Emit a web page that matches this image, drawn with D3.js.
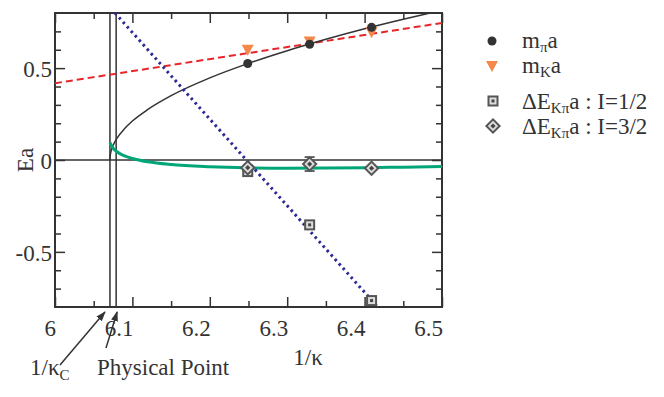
<!DOCTYPE html>
<html><head><meta charset="utf-8">
<script src="https://cdn.jsdelivr.net/npm/d3@7"></script>
<style>body{margin:0;background:#fff}</style>
</head><body><svg id="c" width="664" height="397" font-family="'Liberation Serif', 'Times New Roman', 'DejaVu Serif', serif"></svg>
<script>
const xTicks=[6.0,6.1,6.2,6.3,6.4,6.5];
const xTickLabels=["6","6.1","6.2","6.3","6.4","6.5"];
const yTicks=[-0.5,0,0.5];
const yTickLabels=["-0.5","0","0.5"];
const invKappa=[6.249,6.329,6.409];
const mPi=[0.525,0.630,0.722];
const mK=[0.600,0.645,0.695];
const dE12=[-0.063,-0.353,-0.765];
const dE32=[-0.042,-0.022,-0.045];
const dE32err=[0.006,0.038,0.008];
const invKappaC=6.071, invKappaPhys=6.079;
const piFitX=[6.071,6.0715,6.073,6.076,6.08,6.09,6.1,6.12,6.15,6.2,6.25,6.3,6.35,6.4,6.45,6.49];
const piFitY=[0.0,0.028,0.056,0.088,0.118,0.171,0.212,0.275,0.350,0.447,0.526,0.595,0.657,0.714,0.766,0.805];
const kFitX=[6.0,6.5];
const kFitY=[0.418,0.746];
const i12FitX=[6.0775,6.417];
const i12FitY=[0.8,-0.8];
const i32FitX=[6.071,6.075,6.08,6.09,6.1,6.12,6.15,6.2,6.25,6.3,6.35,6.4,6.45,6.5];
const i32FitY=[0.094,0.065,0.045,0.022,0.008,-0.010,-0.025,-0.037,-0.043,-0.045,-0.044,-0.042,-0.039,-0.036];

const svg=d3.select("#c");
const L=55,R=442,T=13,B=307;
const x=d3.scaleLinear().domain([6,6.5]).range([L,R]);
const y=d3.scaleLinear().domain([-0.8,0.8]).range([B,T]);
const dark="#333";
const FS=23;
const defs=svg.append("defs");
defs.append("clipPath").attr("id","clip").append("rect").attr("x",L).attr("y",T).attr("width",R-L).attr("height",B-T);
defs.append("marker").attr("id","arr").attr("viewBox","0 0 10 10").attr("refX",9).attr("refY",5)
 .attr("markerWidth",10).attr("markerHeight",10).attr("markerUnits","userSpaceOnUse").attr("orient","auto")
 .append("path").attr("d","M0,1.5L10,5L0,8.5Z").attr("fill",dark);

const minorX=d3.range(6.05,6.5,0.1);
const minorY=d3.range(-0.8,0.81,0.1).map(v=>+v.toFixed(2)).filter(v=>!yTicks.includes(v)&&Math.abs(v)<0.8);
function ax(gen,tr){return svg.append("g").attr("transform",tr).call(gen).call(g=>{g.select(".domain").remove();g.selectAll("line").attr("stroke",dark).attr("stroke-width",1.5);});}
ax(d3.axisBottom(x).tickValues(xTicks).tickSize(-10).tickFormat(""),`translate(0,${B})`);
ax(d3.axisBottom(x).tickValues(minorX).tickSize(-6).tickFormat(""),`translate(0,${B})`);
ax(d3.axisTop(x).tickValues(xTicks).tickSize(-10).tickFormat(""),`translate(0,${T})`);
ax(d3.axisTop(x).tickValues(minorX).tickSize(-6).tickFormat(""),`translate(0,${T})`);
ax(d3.axisLeft(y).tickValues(yTicks).tickSize(-10).tickFormat(""),`translate(${L},0)`);
ax(d3.axisLeft(y).tickValues(minorY).tickSize(-6).tickFormat(""),`translate(${L},0)`);
ax(d3.axisRight(y).tickValues(yTicks).tickSize(-10).tickFormat(""),`translate(${R},0)`);
ax(d3.axisRight(y).tickValues(minorY).tickSize(-6).tickFormat(""),`translate(${R},0)`);
svg.append("rect").attr("x",L).attr("y",T).attr("width",R-L).attr("height",B-T).attr("fill","none").attr("stroke",dark).attr("stroke-width",2);

const txt=(g)=>g.append("text").attr("fill",dark).attr("font-family","'Liberation Serif', 'DejaVu Serif', serif");
svg.append("g").selectAll("text").data(xTicks).join("text").attr("fill",dark).attr("font-family","'Liberation Serif', 'DejaVu Serif', serif")
 .attr("x",d=>x(d)+1).attr("y",B+29).attr("text-anchor","end").attr("font-size",FS).text((d,i)=>xTickLabels[i]);
svg.append("g").selectAll("text").data(yTicks).join("text").attr("fill",dark).attr("font-family","'Liberation Serif', 'DejaVu Serif', serif")
 .attr("x",L-3).attr("y",d=>y(d)+9).attr("text-anchor","end").attr("font-size",FS).text((d,i)=>yTickLabels[i]);
txt(svg).attr("transform",`translate(33,160) rotate(-90)`).attr("text-anchor","middle").attr("font-size",FS).text("Ea");
txt(svg).attr("x",308).attr("y",365).attr("text-anchor","middle").attr("font-size",FS).text("1/κ");

const plot=svg.append("g").attr("clip-path","url(#clip)");
[invKappaC,invKappaPhys].forEach(v=>plot.append("line").attr("x1",x(v)).attr("x2",x(v)).attr("y1",T).attr("y2",B).attr("stroke",dark).attr("stroke-width",1.5));
plot.append("line").attr("x1",L).attr("x2",R).attr("y1",y(0)).attr("y2",y(0)).attr("stroke",dark).attr("stroke-width",1.5);

const line=d3.line().x(d=>x(d[0])).y(d=>y(d[1]));
const smooth=d3.line().x(d=>x(d[0])).y(d=>y(d[1])).curve(d3.curveMonotoneX);
plot.append("path").attr("d",line(d3.zip(kFitX,kFitY))).attr("fill","none").attr("stroke","#e8262a").attr("stroke-width",2).attr("stroke-dasharray","7,4");
plot.append("path").attr("d",smooth(d3.zip(piFitX,piFitY))).attr("fill","none").attr("stroke",dark).attr("stroke-width",1.5);
plot.append("path").attr("d",smooth(d3.zip(i32FitX,i32FitY))).attr("fill","none").attr("stroke","#00a678").attr("stroke-width",3);
plot.append("path").attr("d",line(d3.zip(i12FitX,i12FitY))).attr("fill","none").attr("stroke","#2a2a96").attr("stroke-width",3).attr("stroke-dasharray","2.5,3.5");

function circle(g,cx,cy){g.append("circle").attr("cx",cx).attr("cy",cy).attr("r",4.5).attr("fill",dark);}
function tri(g,cx,cy){g.append("path").attr("d",`M${cx-6},${cy-5}L${cx+6},${cy-5}L${cx},${cy+6}Z`).attr("fill","#f4874a");}
function sq(g,cx,cy){g.append("rect").attr("x",cx-5.5).attr("y",cy-5.5).attr("width",11).attr("height",11).attr("fill","#555");
 g.append("rect").attr("x",cx-3.5).attr("y",cy-3.5).attr("width",7).attr("height",7).attr("fill","#ddd");
 g.append("rect").attr("x",cx-1.5).attr("y",cy-1.5).attr("width",3).attr("height",3).attr("fill","#444");}
function dia(g,cx,cy){const p=r=>`M${cx},${cy-r}L${cx+r},${cy}L${cx},${cy+r}L${cx-r},${cy}Z`;
 g.append("path").attr("d",p(8)).attr("fill","#555");
 g.append("path").attr("d",p(5.2)).attr("fill","#ddd");
 g.append("path").attr("d",p(2.6)).attr("fill","#444");}
const pts=svg.append("g");
invKappa.forEach((k,i)=>{
 const cx=x(k);
 const e1=y(dE32[i]+dE32err[i]),e2=y(dE32[i]-dE32err[i]);
 pts.append("line").attr("x1",cx).attr("x2",cx).attr("y1",e1).attr("y2",e2).attr("stroke",dark).attr("stroke-width",1.5);
 [e1,e2].forEach(e=>pts.append("line").attr("x1",cx-5).attr("x2",cx+5).attr("y1",e).attr("y2",e).attr("stroke",dark).attr("stroke-width",1.5));
 sq(pts,cx,y(dE12[i]));
 dia(pts,cx,y(dE32[i]));
 tri(pts,cx,y(mK[i]));
 circle(pts,cx,y(mPi[i]));
});

const lg=svg.append("g");
circle(lg,492,41); tri(lg,492,66); sq(lg,493,101); dia(lg,493,126);
const lt=(yy,parts)=>{const t=txt(lg).attr("x",522).attr("y",yy).attr("font-size",FS);
 parts.forEach(p=>{const s=t.append("tspan").text(p[0]);if(p[2])s.attr("font-size",15);if(p[1])s.attr("dy",p[1]);});};
lt(48,[["m"],["π",4,1],["a",-4]]);
lt(73,[["m"],["K",4,1],["a",-4]]);
lt(109,[["ΔE"],["Kπ",4,1],["a : I=1/2",-4]]);
lt(134,[["ΔE"],["Kπ",4,1],["a : I=3/2",-4]]);

svg.append("line").attr("x1",60).attr("y1",365).attr("x2",x(invKappaC)-5).attr("y2",312).attr("stroke",dark).attr("stroke-width",1.5).attr("marker-end","url(#arr)");
svg.append("line").attr("x1",106).attr("y1",348).attr("x2",x(invKappaPhys)+1).attr("y2",312).attr("stroke",dark).attr("stroke-width",1.5).attr("marker-end","url(#arr)");
const a1=txt(svg).attr("x",30).attr("y",375).attr("font-size",FS);
a1.append("tspan").text("1/κ"); a1.append("tspan").attr("font-size",15).attr("dy",5).text("C");
txt(svg).attr("x",97).attr("y",375).attr("font-size",FS).text("Physical Point");
</script></body></html>
